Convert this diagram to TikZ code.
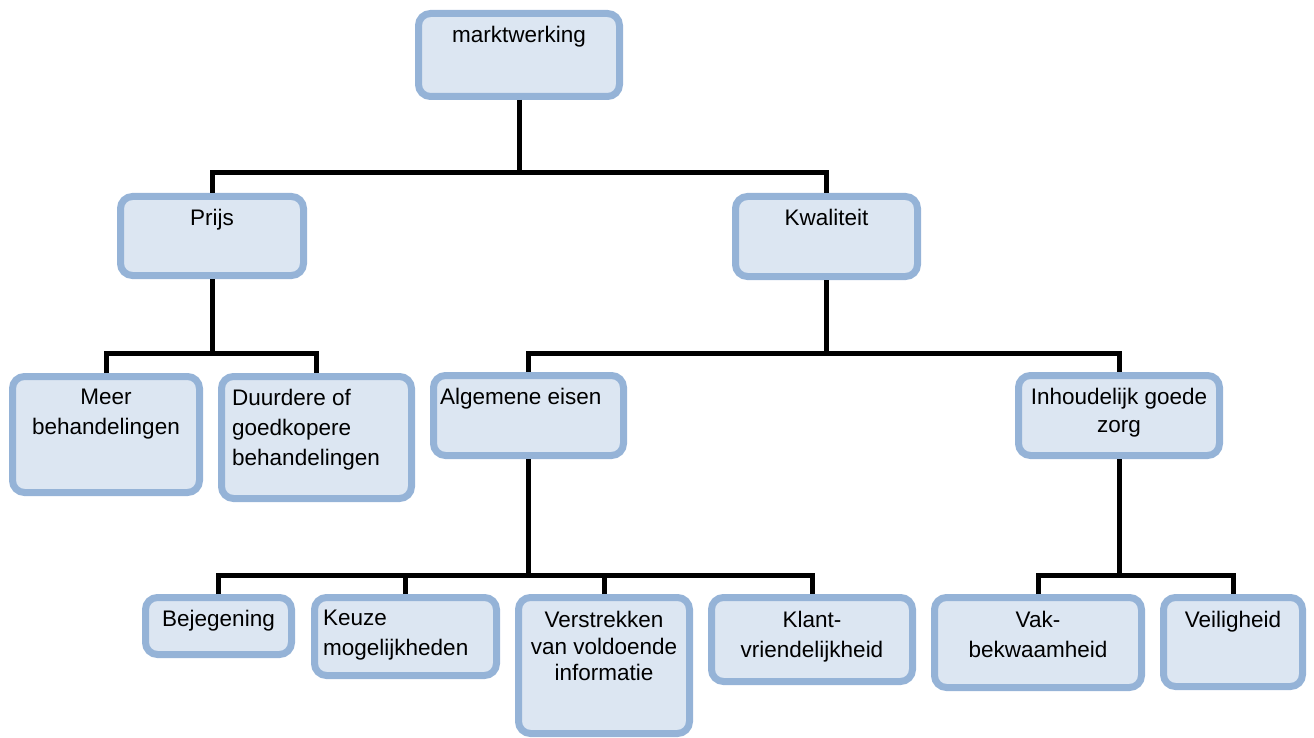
\documentclass[tikz,border=0pt]{standalone}
\usepackage{fontspec}
\setmainfont{Liberation Sans}
\definecolor{bxline}{HTML}{95B3D7}
\definecolor{bxfill}{HTML}{DCE6F2}
\begin{document}
\begin{tikzpicture}[x=1pt,y=-1pt,
  bx/.style={draw=bxline, fill=bxfill, line width=7pt, rounded corners=12pt, rectangle, inner sep=0pt},
  txt/.style={inner sep=0pt, font=\fontsize{22.5}{30}\selectfont, text=black},
  conn/.style={draw=black, line width=5pt, line join=miter}]
\useasboundingbox (0,0) rectangle (1314,738);
% junctions
\coordinate (j1) at (519,173);
\coordinate (j2) at (212,353);
\coordinate (j3) at (826.5,353);
\coordinate (j4) at (528.5,575);
\coordinate (j5) at (1119,575);
% boxes
\node[bx, minimum width=201pt, minimum height=83pt] (mw) at (519,55) {};
\node[bx, minimum width=183pt, minimum height=79pt] (prijs) at (212,236) {};
\node[bx, minimum width=182pt, minimum height=80pt] (kwal) at (826.5,236.5) {};
\node[bx, minimum width=187pt, minimum height=116pt] (meer) at (106,434.5) {};
\node[bx, minimum width=190pt, minimum height=122pt] (duur) at (316.5,437.5) {};
\node[bx, minimum width=190pt, minimum height=80pt] (alg) at (528.5,415.5) {};
\node[bx, minimum width=201pt, minimum height=80pt] (inh) at (1119,415.5) {};
\node[bx, minimum width=146pt, minimum height=57pt] (bej) at (218.5,626) {};
\node[bx, minimum width=182pt, minimum height=78pt] (keuze) at (405.5,636.5) {};
\node[bx, minimum width=171pt, minimum height=136pt] (verst) at (604,665.5) {};
\node[bx, minimum width=201pt, minimum height=84pt] (klant) at (812,639.5) {};
\node[bx, minimum width=207pt, minimum height=90pt] (vak) at (1038,642.5) {};
\node[bx, minimum width=139pt, minimum height=89pt] (veil) at (1233,642) {};
% connectors
\draw[conn] (mw.south) -- (mw.south |- j1);
\draw[conn] (prijs.north) |- (j1) -| (kwal.north);
\draw[conn] (prijs.south) -- (prijs.south |- j2);
\draw[conn] (meer.north) |- (j2) -| (duur.north);
\draw[conn] (kwal.south) -- (kwal.south |- j3);
\draw[conn] (alg.north) |- (j3) -| (inh.north);
\draw[conn] (alg.south) -- (alg.south |- j4);
\draw[conn] (bej.north) |- (j4) -| (klant.north);
\draw[conn] (keuze.north) -- (keuze.north |- j4);
\draw[conn] (verst.north) -- (verst.north |- j4);
\draw[conn] (inh.south) -- (inh.south |- j5);
\draw[conn] (vak.north) |- (j5) -| (veil.north);
% texts
\node[txt, anchor=north] (mw-t) at ([yshift=-15.5pt]mw.north) {marktwerking};
\node[txt, anchor=north] (prijs-t) at ([yshift=-15.5pt]prijs.north) {Prijs};
\node[txt, anchor=north] (kwal-t) at ([yshift=-15.5pt]kwal.north) {Kwaliteit};
\node[txt, anchor=north, align=center] (meer-t) at ([yshift=-15.5pt]meer.north) {Meer\\behandelingen};
\node[txt, anchor=north west, align=left] (duur-t) at ([xshift=14pt,yshift=-15.5pt]duur.north west) {Duurdere of\\goedkopere\\behandelingen};
\node[txt, anchor=north west, align=left] (alg-t) at ([xshift=10pt,yshift=-15.5pt]alg.north west) {Algemene eisen};
\node[txt, anchor=north, align=center, font=\fontsize{22.5}{28}\selectfont] (inh-t) at ([yshift=-15.5pt]inh.north) {Inhoudelijk goede\\zorg};
\node[txt, anchor=north] (bej-t) at ([yshift=-15.5pt]bej.north) {Bejegening};
\node[txt, anchor=north west, align=left] (keuze-t) at ([xshift=12pt,yshift=-15.5pt]keuze.north west) {Keuze\\mogelijkheden};
\node[txt, anchor=north, align=center, font=\fontsize{22.5}{26.5}\selectfont] (verst-t) at ([yshift=-17pt]verst.north) {Verstrekken\\van voldoende\\informatie};
\node[txt, anchor=north, align=center] (klant-t) at ([yshift=-17pt]klant.north) {Klant-\\vriendelijkheid};
\node[txt, anchor=north, align=center] (vak-t) at ([yshift=-17pt]vak.north) {Vak-\\bekwaamheid};
\node[txt, anchor=north] (veil-t) at ([yshift=-17pt]veil.north) {Veiligheid};
\end{tikzpicture}
\end{document}
